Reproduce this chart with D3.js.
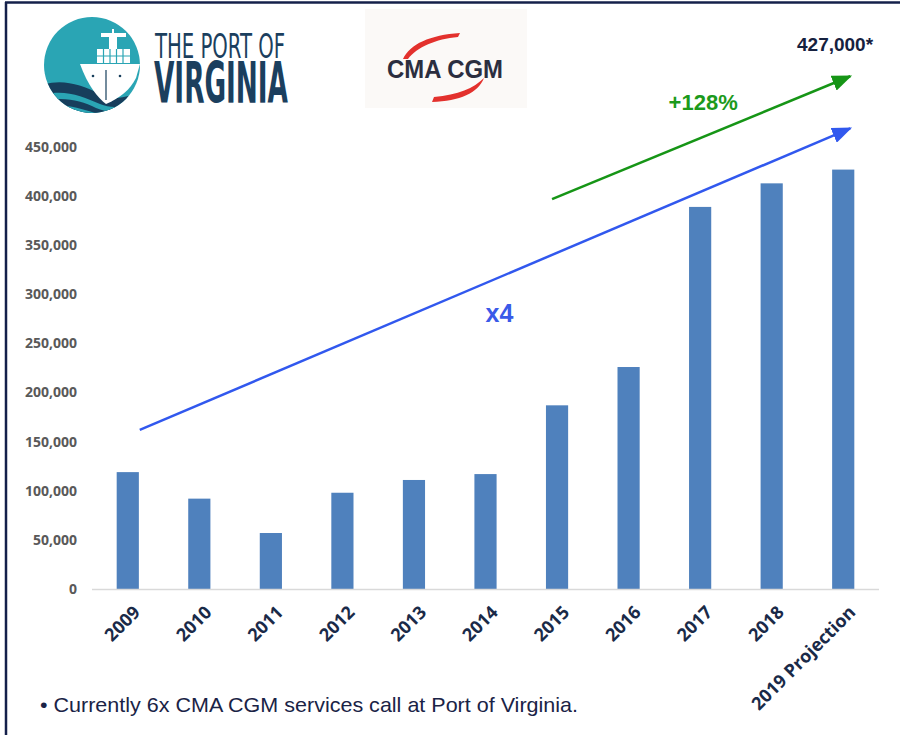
<!DOCTYPE html>
<html>
<head>
<meta charset="utf-8">
<script src="https://cdn.jsdelivr.net/npm/d3@7"></script>
<style>
  body { margin: 0; background: #fff; }
  svg { display: block; }
</style>
</head>
<body>
<div id="chart"></div>
<script>
// Chart data
var years = ['2009', '2010', '2011', '2012', '2013', '2014', '2015', '2016', '2017', '2018', '2019 Projection'];
var volumes = [119000, 92000, 57000, 98000, 111000, 117000, 187000, 226000, 389000, 413000, 427000];
var yTicks = [0, 50000, 100000, 150000, 200000, 250000, 300000, 350000, 400000, 450000];

// Trend arrows (band + value at each end)
var arrowFrom = [['2009', 162000], ['2015', 397000]];
var arrowTo = [['2019 Projection', 469000], ['2019 Projection', 522000]];
var arrowColors = ['#3158ee', '#169516'];

var width = 900,
    height = 735,
    plotLeft = 92,
    plotRight = 879,
    plotTop = 147,
    plotBottom = 589,
    barColor = '#4f81bd',
    navy = '#16213f';

var svg = d3.select('#chart').append('svg')
    .attr('width', width)
    .attr('height', height);

svg.append('rect').attr('width', width).attr('height', height).attr('fill', '#fff');

// slide frame (top + left only)
svg.append('line').attr('x1', 5).attr('x2', width).attr('y1', 2.5).attr('y2', 2.5)
   .attr('stroke', '#14204a').attr('stroke-width', 2.5);
svg.append('line').attr('x1', 6).attr('x2', 6).attr('y1', 2).attr('y2', height)
   .attr('stroke', '#14204a').attr('stroke-width', 2.5);

var x = d3.scaleBand()
    .domain(years)
    .range([plotLeft, plotRight])
    .paddingInner(0.69)
    .paddingOuter(0.345);

var y = d3.scaleLinear()
    .domain([0, 450000])
    .range([plotBottom, plotTop]);

function cx(name){ return x(name) + x.bandwidth() / 2; }

// y axis labels
var fmt = d3.format(',');
svg.append('g')
   .selectAll('text')
   .data(yTicks)
   .enter().append('text')
   .attr('x', 77)
   .attr('y', function(d){ return y(d); })
   .attr('dy', '0.35em')
   .attr('text-anchor', 'end')
   .attr('font-family', 'Open Sans, sans-serif')
   .attr('font-weight', 700)
   .attr('font-size', '14px')
   .attr('fill', '#595959')
   .text(function(d){ return fmt(d); });

// bars
svg.append('g')
   .selectAll('rect')
   .data(volumes)
   .enter().append('rect')
   .attr('x', function(d, i){ return x(years[i]); })
   .attr('y', function(d){ return y(d); })
   .attr('width', x.bandwidth())
   .attr('height', function(d){ return y(0) - y(d); })
   .attr('fill', barColor);

// baseline
svg.append('line')
   .attr('x1', plotLeft).attr('x2', plotRight)
   .attr('y1', y(0) + 0.5).attr('y2', y(0) + 0.5)
   .attr('stroke', '#d9d9d9').attr('stroke-width', 1.5);

// x labels, rotated
svg.append('g')
   .selectAll('text')
   .data(years)
   .enter().append('text')
   .attr('transform', function(d){ return 'translate(' + (cx(d) + 9) + ',' + (y(0) + 20) + ') rotate(-45)'; })
   .attr('text-anchor', 'end')
   .attr('dy', '0.35em')
   .attr('font-family', 'Open Sans, sans-serif')
   .attr('font-weight', 700)
   .attr('font-size', '18px')
   .attr('fill', '#1a2a48')
   .text(function(d){ return d; });

// arrowheads
var defs = svg.append('defs');
arrowColors.forEach(function(c, i){
  defs.append('marker')
      .attr('id', 'head' + i)
      .attr('markerUnits', 'userSpaceOnUse')
      .attr('viewBox', '0 0 20 16')
      .attr('refX', 18).attr('refY', 8)
      .attr('markerWidth', 20).attr('markerHeight', 16)
      .attr('orient', 'auto')
      .append('path')
      .attr('d', 'M0,0 L20,8 L0,16 Z')
      .attr('fill', c);
});

var startDx = [12, -5], endDx = [7, 7];
svg.append('g')
   .selectAll('line')
   .data(arrowFrom)
   .enter().append('line')
   .attr('x1', function(d, i){ return cx(d[0]) + startDx[i]; })
   .attr('y1', function(d){ return y(d[1]); })
   .attr('x2', function(d, i){ return cx(arrowTo[i][0]) + endDx[i]; })
   .attr('y2', function(d, i){ return y(arrowTo[i][1]); })
   .attr('stroke', function(d, i){ return arrowColors[i]; })
   .attr('stroke-width', 2.5)
   .attr('marker-end', function(d, i){ return 'url(#head' + i + ')'; });

// annotations
svg.append('text')
   .attr('x', cx('2014')).attr('y', y(272000))
   .attr('font-family', 'Liberation Sans, Arial, sans-serif')
   .attr('font-weight', 700).attr('font-size', '25px')
   .attr('fill', '#3a5ae8')
   .text('x4');

svg.append('text')
   .attr('x', cx('2016') + 40).attr('y', y(488000))
   .attr('font-family', 'Liberation Sans, Arial, sans-serif')
   .attr('font-weight', 700).attr('font-size', '22px')
   .attr('fill', '#1c9a1c')
   .text('+128%');

svg.append('text')
   .attr('x', 797).attr('y', 51)
   .attr('font-family', 'Liberation Sans, Arial, sans-serif')
   .attr('font-weight', 700).attr('font-size', '19px')
   .attr('fill', navy)
   .text('427,000*');

// footnote
svg.append('text')
   .attr('x', 40).attr('y', 712)
   .attr('font-family', 'Liberation Sans, Arial, sans-serif')
   .attr('font-size', '21px')
   .attr('textLength', 538).attr('lengthAdjust', 'spacingAndGlyphs')
   .attr('fill', '#1a2346')
   .text('\u2022 Currently 6x CMA CGM services call at Port of Virginia.');

// ---- Port of Virginia logo ----
var logo = svg.append('g');
defs.append('clipPath').attr('id', 'circClip')
    .append('circle').attr('cx', 92).attr('cy', 65).attr('r', 48);

logo.append('circle').attr('cx', 92).attr('cy', 65).attr('r', 48).attr('fill', '#2aa5b4');

var inCirc = logo.append('g').attr('clip-path', 'url(#circClip)');
// waves
var waveNavy = '#173e5c';
inCirc.append('path')
   .attr('d', 'M40,86 C60,78 80,84 100,94 C115,101 128,98 142,90 L142,120 L40,120 Z')
   .attr('fill', waveNavy);
inCirc.append('path')
   .attr('d', 'M40,96 C62,88 82,96 100,104 C114,110 128,106 142,100 L142,104 C126,112 110,114 96,108 C80,100 62,96 40,102 Z')
   .attr('fill', '#2aa5b4');
inCirc.append('path')
   .attr('d', 'M40,108 C60,102 80,108 98,114 C112,118 126,116 142,110 L142,113 C126,121 110,122 96,118 C80,112 60,108 40,113 Z')
   .attr('fill', '#2aa5b4');

// ship hull, bow towards viewer
logo.append('path')
   .attr('d', 'M80,64 L140,64 L136,78 C130,90 120,98 106,104 C98,98 88,86 80,64 Z')
   .attr('fill', '#fff');
logo.append('path')
   .attr('d', 'M106,70 L106,100')
   .attr('stroke', waveNavy).attr('stroke-width', 1.2);
logo.append('circle').attr('cx', 93).attr('cy', 76).attr('r', 1.3).attr('fill', waveNavy);
logo.append('circle').attr('cx', 120).attr('cy', 76).attr('r', 1.3).attr('fill', waveNavy);

// containers
var cont = logo.append('g');
cont.append('rect').attr('x', 97).attr('y', 49).attr('width', 33).attr('height', 14).attr('fill', '#fff');
[103.5, 110, 116.5, 123].forEach(function(cxx){
  cont.append('line').attr('x1', cxx).attr('x2', cxx).attr('y1', 49).attr('y2', 63)
      .attr('stroke', '#2aa5b4').attr('stroke-width', 1.2);
});
cont.append('line').attr('x1', 97).attr('x2', 130).attr('y1', 56).attr('y2', 56)
    .attr('stroke', '#2aa5b4').attr('stroke-width', 1.2);
// bridge / crane
logo.append('rect').attr('x', 101).attr('y', 33).attr('width', 25).attr('height', 4).attr('fill', '#fff');
logo.append('rect').attr('x', 109).attr('y', 36).attr('width', 8).attr('height', 13).attr('fill', '#fff');
logo.append('rect').attr('x', 112).attr('y', 29).attr('width', 2).attr('height', 5).attr('fill', '#fff');

logo.append('text')
   .attr('x', 155).attr('y', 58)
   .attr('font-family', 'Liberation Sans Narrow, DejaVu Sans Condensed, sans-serif')
   .attr('font-size', '33px')
   .attr('textLength', 130).attr('lengthAdjust', 'spacingAndGlyphs')
   .attr('fill', '#1b3f5e')
   .text('THE PORT OF');
logo.append('text')
   .attr('x', 154).attr('y', 103)
   .attr('font-family', 'Liberation Sans Narrow, DejaVu Sans Condensed, sans-serif')
   .attr('font-weight', 700)
   .attr('font-size', '57px')
   .attr('textLength', 134).attr('lengthAdjust', 'spacingAndGlyphs')
   .attr('fill', '#1b3f5e')
   .text('VIRGINIA');

// ---- CMA CGM logo ----
var cma = svg.append('g');
cma.append('rect').attr('x', 365).attr('y', 9).attr('width', 162).attr('height', 99).attr('fill', '#fbf9f7');
cma.append('path')
   .attr('d', 'M403,59 C410,44 430,35 460,33 L458,37 C436,39 417,47 408,59 Z')
   .attr('fill', '#e3312d');
cma.append('path')
   .attr('d', 'M432,102 L434,97 C458,95 474,88 484,78 C478,93 460,101 432,102 Z')
   .attr('fill', '#e3312d');
cma.append('text')
   .attr('x', 387).attr('y', 78)
   .attr('font-family', 'Liberation Sans, Arial, sans-serif')
   .attr('font-weight', 700)
   .attr('font-size', '25px')
   .attr('textLength', 116).attr('lengthAdjust', 'spacingAndGlyphs')
   .attr('fill', '#2b2e3f')
   .text('CMA CGM');
</script>
</body>
</html>
